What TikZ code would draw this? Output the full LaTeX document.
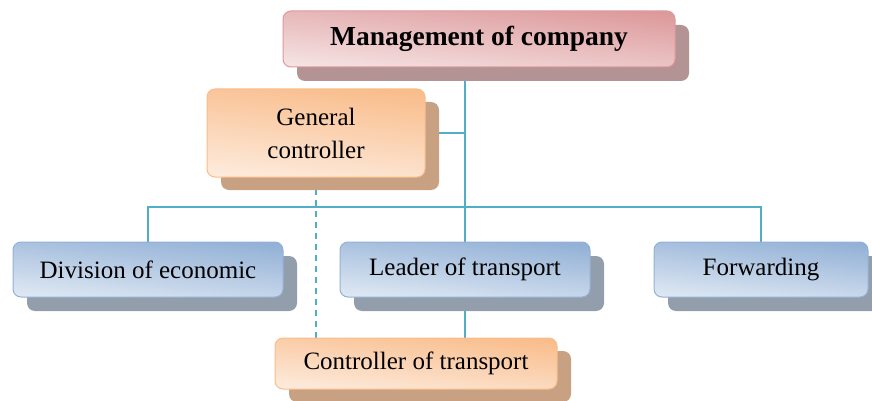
\documentclass[tikz,border=0pt]{standalone}
\usepackage{fontspec}
\setmainfont{Liberation Serif}
\usetikzlibrary{positioning,shadows,backgrounds,calc}
\definecolor{pinkdark}{HTML}{DD9A9C}
\definecolor{pinklight}{HTML}{F5E2E2}
\definecolor{pinkshadow}{HTML}{B39393}
\definecolor{orangedark}{HTML}{F9BD8C}
\definecolor{orangelight}{HTML}{FDEADB}
\definecolor{orangeshadow}{HTML}{C8A182}
\definecolor{bluedark}{HTML}{93B1D6}
\definecolor{bluelight}{HTML}{DDE7F3}
\definecolor{blueshadow}{HTML}{939EAC}
\definecolor{linkcol}{HTML}{4EAFC5}
\tikzstyle{box}=[rounded corners=8pt,inner sep=0pt,align=center,line width=1pt,font=\fontsize{25}{33}\selectfont]
\tikzstyle{pinkbox}=[box,draw=pinkdark,top color=pinkdark,bottom color=pinklight,shading angle=-6,
  drop shadow={shadow xshift=14pt,shadow yshift=-14pt,fill=pinkshadow,opacity=1}]
\tikzstyle{orangebox}=[box,draw=orangedark,top color=orangedark,bottom color=orangelight,shading angle=-6,
  drop shadow={shadow xshift=14pt,shadow yshift=-13pt,fill=orangeshadow,opacity=1}]
\tikzstyle{bluebox}=[box,draw=bluedark,top color=bluedark,bottom color=bluelight,shading angle=-6,
  drop shadow={shadow xshift=14pt,shadow yshift=-14pt,fill=blueshadow,opacity=1}]
\tikzstyle{link}=[draw=linkcol,line width=2pt]

\begin{document}
\begin{tikzpicture}[x=1pt,y=-1pt]
\useasboundingbox (0,0) rectangle (872,401);
% top
\node [pinkbox,minimum width=392pt,minimum height=56pt,font=\fontsize{27.5}{33}\selectfont\bfseries] (mgmt) at (479,39) {Management of company};
\node [orangebox,minimum width=218pt,minimum height=88pt] (genctrl) at (316,133) {General\\controller};
% departments
\node [bluebox,minimum width=270pt,minimum height=55pt] (diveco) at (148,269.5) {Division of economic};
\node [bluebox,minimum width=250pt,minimum height=55pt] (leader) at (465,269.5) {Leader of transport};
\node [bluebox,minimum width=214pt,minimum height=55pt] (fwd) at (761,269.5) {Forwarding};
\node [orangebox,minimum width=282pt,minimum height=51pt] (ctrltr) at (416,363.5) {Controller of transport};
\coordinate (bus) at (465,207);
% connectors
\begin{scope}[on background layer]
	\draw [link] (mgmt.south -| leader.north) -- (leader.north);
	\draw [link] (genctrl.east) -- (genctrl.east -| leader.north);
	\draw [link] (diveco.north) -- (diveco.north |- bus) -- (fwd.north |- bus) -- (fwd.north);
	\draw [link] (leader.south) -- (leader.south |- ctrltr.north);
	\draw [link,dash pattern=on 6pt off 5pt] (genctrl.south) -- (genctrl.south |- ctrltr.north);
\end{scope}
\end{tikzpicture}
\end{document}
